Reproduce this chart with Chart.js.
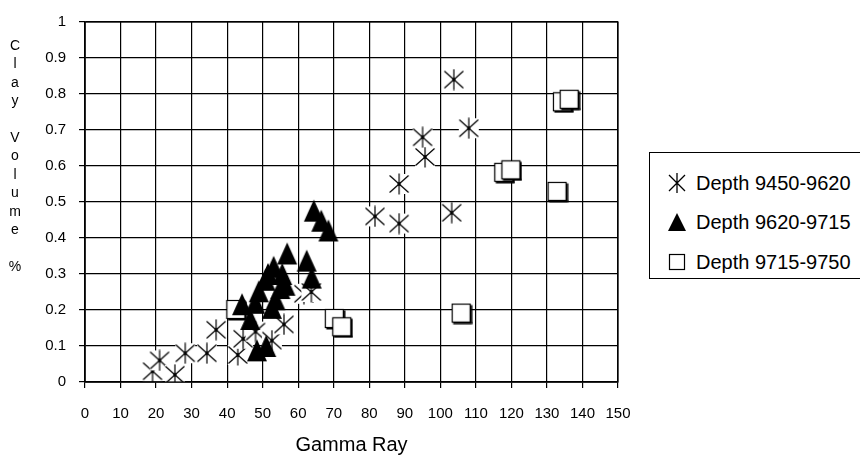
<!DOCTYPE html>
<html>
<head>
<meta charset="utf-8">
<script src="https://cdn.jsdelivr.net/npm/chart.js@4.4.1/dist/chart.umd.min.js"></script>
<style>
  html, body { margin: 0; padding: 0; background: #fff; }
  #wrap { position: relative; width: 860px; height: 458px; overflow: hidden; font-family: "Liberation Sans", Arial, sans-serif; }
  #c { position: absolute; left: 0; top: 0; }
  #ytitle { position: absolute; left: 6px; top: 36px; width: 18px; text-align: center; font-size: 14px; line-height: 18.4px; color: #000; }
  #legend { position: absolute; left: 649px; top: 152px; width: 240px; height: 127px; border: 1px solid #000; box-sizing: border-box; background: #fff; }
  .item { position: absolute; left: 0; height: 24px; font-size: 20px; color: #000; white-space: nowrap; }
  .item svg { position: absolute; left: 17px; top: 2px; }
  .item span { position: absolute; left: 46px; top: 0; line-height: 24px; }
</style>
</head>
<body>
<div id="wrap">
  <canvas id="c" width="860" height="458"></canvas>
  <div id="ytitle">C<br>l<br>a<br>y<br>&nbsp;<br>V<br>o<br>l<br>u<br>m<br>e<br>&nbsp;<br>%</div>
  <div id="legend"></div>
</div>
<script>
// ---- data ----
const seriesNames = ["Depth 9450-9620", "Depth 9620-9715", "Depth 9715-9750"];

const starX = [19, 21, 25.3, 28.2, 34.3, 36.9, 43, 44.5, 48, 52.6, 56, 61.6, 63.7, 81.6, 88.4, 88.4, 95.7, 95, 103.2, 103.8, 108];
const starY = [0.03, 0.06, 0.02, 0.08, 0.08, 0.145, 0.075, 0.12, 0.14, 0.115, 0.16, 0.245, 0.25, 0.46, 0.44, 0.55, 0.625, 0.68, 0.47, 0.84, 0.705];

const triX = [44.2, 46.5, 47.9, 48.4, 48.9, 50.8, 51, 51.5, 52.6, 53.1, 53.6, 55, 55.5, 56.4, 56.9, 62.4, 63.8, 64.4, 66.5, 68.5];
const triY = [0.216, 0.175, 0.22, 0.088, 0.252, 0.284, 0.1, 0.3, 0.206, 0.32, 0.23, 0.261, 0.3, 0.27, 0.357, 0.337, 0.29, 0.476, 0.448, 0.421];

const sqX = [42.6, 70.3, 72.4, 106, 118, 120, 133, 134.5, 136.4];
const sqY = [0.2, 0.175, 0.152, 0.19, 0.581, 0.588, 0.528, 0.777, 0.784];

const xTickLabels = ["0","10","20","30","40","50","60","70","80","90","100","110","120","130","140","150"];
const yTickLabels = ["0","0.1","0.2","0.3","0.4","0.5","0.6","0.7","0.8","0.9","1"];

// ---- marker images ----
function makeStar() {
  const c = document.createElement('canvas'); c.width = 22; c.height = 22;
  const g = c.getContext('2d');
  g.fillStyle = '#fff'; g.fillRect(1, 1, 20, 20);
  g.strokeStyle = '#000'; g.lineWidth = 1.2;
  g.beginPath();
  g.moveTo(1.5, 2.5); g.lineTo(20.5, 19.5);
  g.moveTo(20.5, 2.5); g.lineTo(1.5, 19.5);
  g.moveTo(11, 0.5); g.lineTo(11, 21.5);
  g.stroke();
  g.fillStyle = '#000'; g.fillRect(9.5, 9.5, 3, 3);
  return c;
}
function makeTri() {
  const c = document.createElement('canvas'); c.width = 22; c.height = 24;
  const g = c.getContext('2d');
  g.fillStyle = '#000';
  g.beginPath(); g.moveTo(11, 1); g.lineTo(21, 23); g.lineTo(1, 23); g.closePath(); g.fill();
  return c;
}
function makeSq() {
  const c = document.createElement('canvas'); c.width = 22; c.height = 22;
  const g = c.getContext('2d');
  g.fillStyle = '#fff'; g.fillRect(1, 1, 19, 19);
  g.strokeStyle = '#000'; g.lineWidth = 1.2;
  g.strokeRect(1.5, 1.5, 18, 18);
  g.fillStyle = '#000';
  g.fillRect(19.5, 2.5, 2, 18.5);
  g.fillRect(2.5, 19.5, 19, 2);
  return c;
}
const starImg = makeStar(), triImg = makeTri(), sqImg = makeSq();

function pts(xs, ys) { return xs.map((x, i) => ({ x: x, y: ys[i] })); }

const fontFam = '"Liberation Sans", Arial, sans-serif';

new Chart(document.getElementById('c'), {
  type: 'scatter',
  data: {
    datasets: [
      { label: seriesNames[0], data: pts(starX, starY), pointStyle: starImg, order: 2 },
      { label: seriesNames[1], data: pts(triX, triY), pointStyle: triImg, order: 0 },
      { label: seriesNames[2], data: pts(sqX, sqY), pointStyle: sqImg, order: 1 }
    ]
  },
  options: {
    responsive: false,
    animation: false,
    devicePixelRatio: 1,
    layout: { padding: { left: 0, top: 17, right: 242, bottom: 0 } },
    plugins: { legend: { display: false }, tooltip: { enabled: false } },
    scales: {
      x: {
        type: 'linear', min: 0, max: 150,
        afterFit: s => { s.height = 76; },
        afterBuildTicks: s => { s.ticks = xTickLabels.map(v => ({ value: Number(v) })); },
        ticks: { autoSkip: false, maxRotation: 0, padding: 17, color: '#000', font: { family: fontFam, size: 15 },
                 callback: (v, i) => xTickLabels[i] },
        grid: { color: '#000', lineWidth: 1.2, tickLength: 6, drawTicks: true },
        border: { display: true, color: '#000', width: 1.5 },
        title: { display: true, text: 'Gamma Ray', color: '#000', font: { family: fontFam, size: 20 }, padding: { top: 0, bottom: 1 } }
      },
      y: {
        type: 'linear', min: 0, max: 1,
        afterFit: s => { s.width = 85; },
        afterBuildTicks: s => { s.ticks = yTickLabels.map(v => ({ value: Number(v) })); },
        ticks: { autoSkip: false, padding: 13, color: '#000', font: { family: fontFam, size: 15 },
                 callback: (v, i) => yTickLabels[i] },
        grid: { color: '#000', lineWidth: 1.2, tickLength: 6 },
        border: { display: true, color: '#000', width: 1.5 }
      }
    }
  },
  plugins: [{
    id: 'frame',
    afterDraw(chart) {
      const a = chart.chartArea, g = chart.ctx;
      g.save(); g.strokeStyle = '#000'; g.lineWidth = 1.2;
      g.strokeRect(a.left, a.top, a.right - a.left, a.bottom - a.top);
      g.restore();
    }
  }]
});

// ---- legend (HTML) ----
const legendSvgs = [
  '<svg width="20" height="20"><path d="M2 2 L18 18 M18 2 L2 18 M10 0 L10 20" stroke="#000" stroke-width="1.3" fill="none"/></svg>',
  '<svg width="20" height="20"><path d="M10 1 L19 19 L1 19 Z" fill="#000"/></svg>',
  '<svg width="20" height="20"><rect x="2.5" y="2.5" width="15" height="15" fill="#fff" stroke="#000" stroke-width="1.2"/></svg>'
];
const legendTops = [18, 57, 97];
const lg = document.getElementById('legend');
seriesNames.forEach((n, i) => {
  const d = document.createElement('div');
  d.className = 'item';
  d.style.top = legendTops[i] + 'px';
  d.innerHTML = legendSvgs[i] + '<span>' + n + '</span>';
  lg.appendChild(d);
});
</script>
</body>
</html>
